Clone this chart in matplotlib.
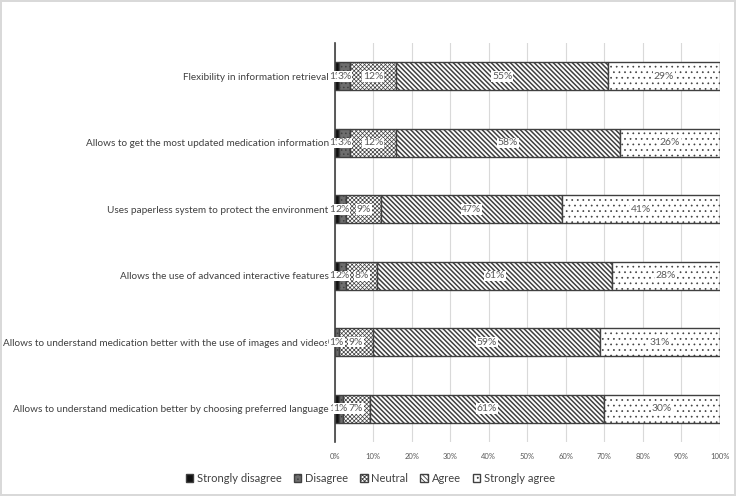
import numpy as np
import matplotlib
matplotlib.use("Agg")
import matplotlib.pyplot as plt

plt.rcParams['font.family'] = ['Lato', 'DejaVu Sans']
plt.rcParams['hatch.linewidth'] = 0.6

categories = [
    "Flexibility in information retrieval",
    "Allows to get the most updated medication information",
    "Uses paperless system to protect the environment",
    "Allows the use of advanced interactive features",
    "Allows to understand medication better with the use of images and videos",
    "Allows to understand medication better by choosing preferred language",
]
levels = ["Strongly disagree", "Disagree", "Neutral", "Agree", "Strongly agree"]

strongly_disagree = [1, 1, 1, 1, 0, 1]
disagree = [3, 3, 2, 2, 1, 1]
neutral = [12, 12, 9, 8, 9, 7]
agree = [55, 58, 47, 61, 59, 61]
strongly_agree = [29, 26, 41, 28, 31, 30]

series = [strongly_disagree, disagree, neutral, agree, strongly_agree]
faces = ["#111111", "#6e6e6e", "white", "white", "white"]
hatches = ["", "....", "xxxxxxxx", "\\" * 7, "..."]
hatch_lw = [0.6, 0.6, 0.5, 1.1, 0.5]

fig = plt.figure(figsize=(7.36, 4.96), dpi=100)
fig.patch.set_edgecolor("#d9d9d9")
fig.patch.set_linewidth(1.5)
ax = fig.add_axes([0.455, 0.109, 0.523, 0.804])

y = np.arange(len(categories))
left = np.zeros(len(categories))
for vals, fc, h, hl, lab in zip(series, faces, hatches, hatch_lw, levels):
    vals = np.array(vals, dtype=float)
    bars = ax.barh(y, vals, left=left, height=0.42, color=fc, hatch=h,
                   edgecolor="#404040", linewidth=1.0, label=lab, zorder=2)
    for b in bars:
        if hasattr(b, "set_hatch_linewidth"):
            b.set_hatch_linewidth(hl)
    for yi, l, v in zip(y, left, vals):
        ax.text(l + v / 2, yi, f"{v:.0f}%", ha="center", va="center",
                fontsize=7.5, color="#595959", zorder=4,
                bbox=dict(facecolor="white", edgecolor="none", pad=0.5))
    left += vals

ax.set_xlim(0, 100)
ax.set_ylim(len(categories) - 0.5, -0.5)
ax.set_yticks(y)
ax.set_yticklabels(categories, fontsize=7.2, color="#404040")
ax.set_xticks(np.arange(0, 101, 10))
ax.set_xticklabels([f"{v}%" for v in range(0, 101, 10)], fontsize=5.5, color="#595959")
ax.tick_params(axis="y", length=0, pad=4.5)
ax.tick_params(axis="x", length=0, pad=8)
ax.grid(axis="x", color="#d9d9d9", lw=0.8, zorder=0)
for s in ["top", "right", "bottom"]:
    ax.spines[s].set_visible(False)
ax.spines["left"].set_color("#404040")
ax.spines["left"].set_linewidth(1.2)

fig.legend(loc="lower center", bbox_to_anchor=(0.503, 0.005), ncol=5, frameon=False,
           fontsize=8, handlelength=0.7, handleheight=0.7, handletextpad=0.3,
           columnspacing=1.1, labelcolor="#404040")

fig.savefig("out.png", dpi=100)
